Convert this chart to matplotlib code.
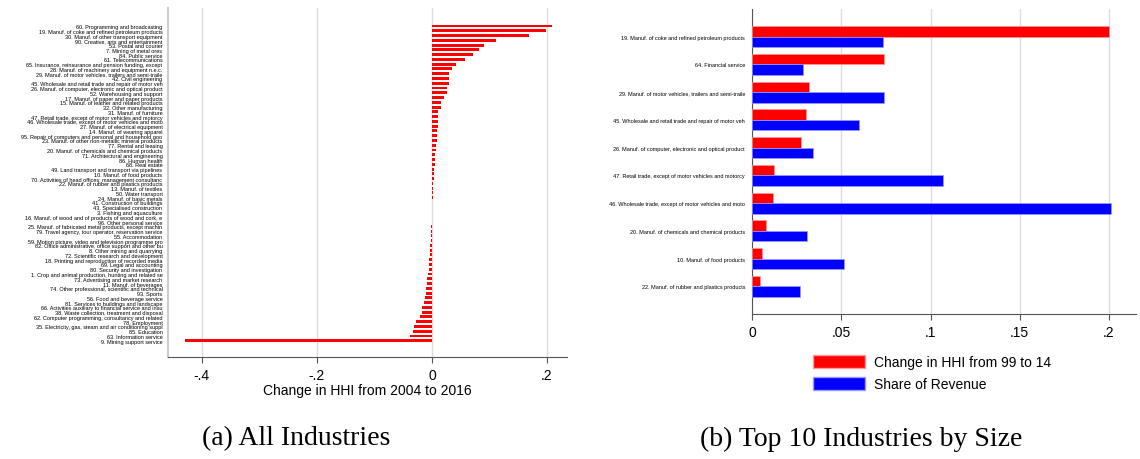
import numpy as np
import matplotlib.pyplot as plt
from matplotlib.patches import Patch

# Panel (a): change in HHI 2004-2016, all industries (sorted)
all_industries = [
    "60. Programming and broadcasting",
    "19. Manuf. of coke and refined petroleum products",
    "30. Manuf. of other transport equipment",
    "90. Creative, arts and entertainment",
    "53. Postal and courier",
    "7. Mining of metal ores",
    "84. Public service",
    "61. Telecommunications",
    "65. Insurance, reinsurance and pension funding, except",
    "28. Manuf. of machinery and equipment n.e.c.",
    "29. Manuf. of motor vehicles, trailers and semi-traile",
    "42. Civil engineering",
    "45. Wholesale and retail trade and repair of motor veh",
    "26. Manuf. of computer, electronic and optical product",
    "52. Warehousing and support",
    "17. Manuf. of paper and paper products",
    "15. Manuf. of leather and related products",
    "32. Other manufacturing",
    "31. Manuf. of furniture",
    "47. Retail trade, except of motor vehicles and motorcy",
    "46. Wholesale trade, except of motor vehicles and moto",
    "27. Manuf. of electrical equipment",
    "14. Manuf. of wearing apparel",
    "95. Repair of computers and personal and household goo",
    "23. Manuf. of other non-metallic mineral products",
    "77. Rental and leasing",
    "20. Manuf. of chemicals and chemical products",
    "71. Architectural and engineering",
    "86. Human health",
    "68. Real estate",
    "49. Land transport and transport via pipelines",
    "10. Manuf. of food products",
    "70. Activities of head offices; management consultanc",
    "22. Manuf. of rubber and plastics products",
    "13. Manuf. of textiles",
    "50. Water transport",
    "24. Manuf. of basic metals",
    "41. Construction of buildings",
    "43. Specialised construction",
    "3. Fishing and aquaculture",
    "16. Manuf. of wood and of products of wood and cork, e",
    "96. Other personal service",
    "25. Manuf. of fabricated metal products, except machin",
    "79. Travel agency, tour operator, reservation service",
    "55. Accommodation",
    "59. Motion picture, video and television programme pro",
    "82. Office administrative, office support and other bu",
    "8. Other mining and quarrying",
    "72. Scientific research and development",
    "18. Printing and reproduction of recorded media",
    "69. Legal and accounting",
    "80. Security and investigation",
    "1. Crop and animal production, hunting and related se",
    "73. Advertising and market research",
    "11. Manuf. of beverages",
    "74. Other professional, scientific and technical",
    "93. Sports",
    "56. Food and beverage service",
    "81. Services to buildings and landscape",
    "66. Activities auxiliary to financial service and insu",
    "38. Waste collection, treatment and disposal",
    "62. Computer programming, consultancy and related",
    "78. Employment",
    "35. Electricity, gas, steam and air conditioning suppl",
    "85. Education",
    "63. Information service",
    "9. Mining support service",
]
hhi_change_all = [
    0.208, 0.198, 0.169, 0.112, 0.090, 0.082, 0.072, 0.057, 0.042, 0.035,
    0.030, 0.030, 0.030, 0.026, 0.026, 0.021, 0.016, 0.016, 0.011, 0.011,
    0.0105, 0.010, 0.0095, 0.009, 0.008, 0.0075, 0.007, 0.006, 0.0055, 0.005,
    0.004, 0.0035, 0.003, 0.0025, 0.002, 0.0015, 0.001, 0.0008, 0.0005, 0.0003,
    -0.0005, -0.0008, -0.001, -0.0015, -0.002, -0.0025, -0.003, -0.0035, -0.004, -0.005,
    -0.0055, -0.006, -0.007, -0.008, -0.009, -0.010, -0.011, -0.012, -0.013, -0.017,
    -0.018, -0.021, -0.028, -0.032, -0.033, -0.038, -0.430,
]

# Panel (b): top 10 industries by size
top10 = [
    "19. Manuf. of coke and refined petroleum products",
    "64. Financial service",
    "29. Manuf. of motor vehicles, trailers and semi-traile",
    "45. Wholesale and retail trade and repair of motor veh",
    "26. Manuf. of computer, electronic and optical product",
    "47. Retail trade, except of motor vehicles and motorcy",
    "46. Wholesale trade, except of motor vehicles and moto",
    "20. Manuf. of chemicals and chemical products",
    "10. Manuf. of food products",
    "22. Manuf. of rubber and plastics products",
]
hhi_change_top = [0.200, 0.0739, 0.0317, 0.0302, 0.0275, 0.0122, 0.0120, 0.0077, 0.0054, 0.0043]
revenue_share = [0.0736, 0.0288, 0.0739, 0.0600, 0.0340, 0.1072, 0.2011, 0.0306, 0.0514, 0.0269]

plt.rcParams['font.family'] = ['Liberation Sans', 'DejaVu Sans']

fig = plt.figure(figsize=(11.4, 4.6), dpi=100)

# ---- left panel ----
ax1 = fig.add_axes([168/1140, 1-358/460, 399/1140, 349/460])
y1 = np.arange(len(all_industries))
ax1.barh(y1, hhi_change_all, height=0.62, color='red', zorder=3)
ax1.set_xlim(-0.459, 0.2348)
ax1.set_ylim(69.4, -3.77)
ax1.set_yticks(y1)
ax1.set_yticklabels(all_industries, fontsize=4)
ax1.tick_params(axis='y', length=0, pad=4)
ax1.set_xticks([-0.4, -0.2, 0, 0.2])
ax1.set_xticklabels(['-.4', '-.2', '0', '.2'], fontsize=10)
ax1.tick_params(axis='x', length=4, color='#555555', pad=4)
ax1.grid(axis='x', color='#dddddd', linewidth=1, zorder=0)
ax1.set_xlabel('Change in HHI from 2004 to 2016', fontsize=10, labelpad=1)
for s in ['top', 'right']:
    ax1.spines[s].set_visible(False)
ax1.spines['left'].set_color('#cccccc')
ax1.spines['left'].set_linewidth(1.5)
ax1.spines['bottom'].set_color('#555555')

# ---- right panel ----
ax2 = fig.add_axes([752/1140, 1-315/460, 384/1140, 305/460])
y2 = np.arange(len(top10))
h = 0.38
ax2.barh(y2 - h/2, hhi_change_top, height=h, color='#ff0000', edgecolor='#ff9a9a', linewidth=0.5, zorder=3)
ax2.barh(y2 + h/2, revenue_share, height=h, color='#0000ff', edgecolor='#9a9aff', linewidth=0.5, zorder=3)
ax2.set_xlim(0, 0.2151)
ax2.set_ylim(10.0, -1.0)
ax2.set_yticks(y2)
ax2.set_yticklabels(top10, fontsize=4)
ax2.tick_params(axis='y', length=0, pad=5)
ax2.set_xticks([0, 0.05, 0.1, 0.15, 0.2])
ax2.set_xticklabels(['0', '.05', '.1', '.15', '.2'], fontsize=10)
ax2.tick_params(axis='x', length=4, color='#555555', pad=4)
ax2.grid(axis='x', color='#dddddd', linewidth=1, zorder=0)
for s in ['top', 'right']:
    ax2.spines[s].set_visible(False)
ax2.spines['left'].set_color('#555555')
ax2.spines['bottom'].set_color('#555555')

handles = [Patch(facecolor='#ff0000', edgecolor='#ff9a9a', label='Change in HHI from 99 to 14'),
           Patch(facecolor='#0000ff', edgecolor='#9a9aff', label='Share of Revenue')]
fig.legend(handles=handles, loc='upper left', bbox_to_anchor=(800/1140, 1-343/460),
           frameon=False, fontsize=10, handlelength=3.8, handleheight=1.1,
           labelspacing=0.55, handletextpad=0.6)

# ---- captions ----
fig.text(296/1140, 1-439/460, '(a) All Industries', ha='center', va='center',
         fontsize=20, family='Liberation Serif')
fig.text(861/1140, 1-439/460, '(b) Top 10 Industries by Size', ha='center', va='center',
         fontsize=20, family='Liberation Serif')

fig.savefig('out.png', dpi=100)
